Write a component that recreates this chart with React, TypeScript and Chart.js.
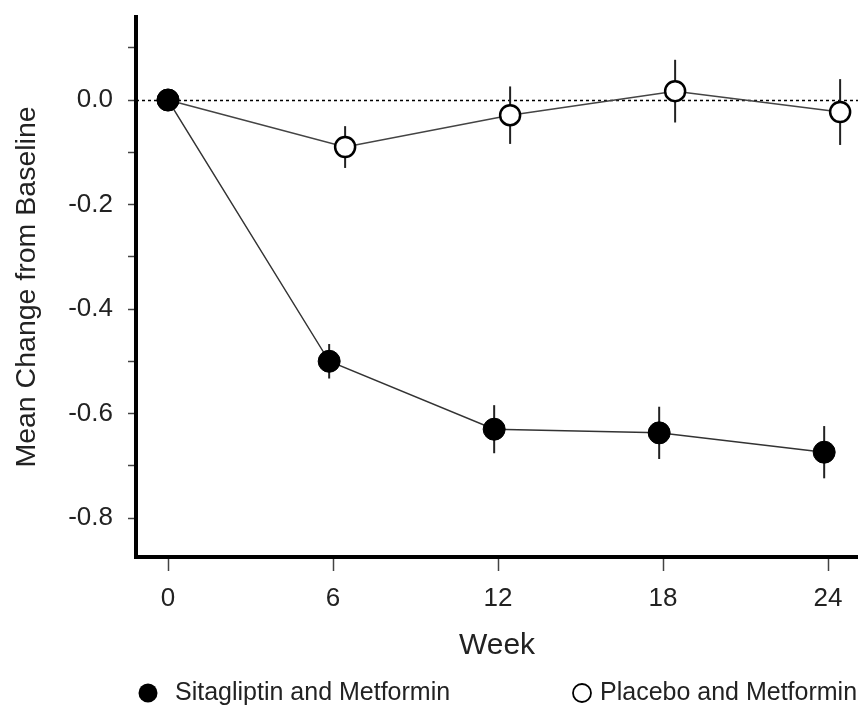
import React, { useEffect, useRef } from "react";
import { Chart, registerables } from "chart.js";

Chart.register(...registerables);

// ---- data ----
const weeks = [0, 6, 12, 18, 24];
const sitaMean = [0, -0.5, -0.63, -0.637, -0.674];
const sitaErr = [0, 0.033, 0.046, 0.05, 0.05];
const placeboMean = [0, -0.09, -0.029, 0.017, -0.023];
const placeboErr = [0, 0.04, 0.055, 0.06, 0.063];
const sitaDodge = -0.14;
const placeboDodge = 0.44;

const xTicks = [0, 6, 12, 18, 24];
const yTicks = [0.1, 0, -0.1, -0.2, -0.3, -0.4, -0.5, -0.6, -0.7, -0.8];
const yTickLabels = ["", "0.0", "", "-0.2", "", "-0.4", "", "-0.6", "", "-0.8"];
const seriesNames = ["Sitagliptin and Metformin", "Placebo and Metformin"];
const xTitle = "Week";
const yTitle = "Mean Change from Baseline";

const FONT = "'Liberation Sans', Arial, Helvetica, sans-serif";
const TEXT = "#222";

const dodge = (w: number, d: number) => (w === 0 ? w : w + d);

const noPad = (s: any) => {
  s.paddingLeft = 0;
  s.paddingRight = 0;
  s.paddingTop = 0;
  s.paddingBottom = 0;
};

const errorBarPlugin = {
  id: "errorBars",
  beforeDatasetsDraw(chart: any) {
    const { ctx, chartArea } = chart;
    const y = chart.scales.y;
    const y0 = Math.round(y.getPixelForValue(0)) + 0.5;
    ctx.save();
    ctx.strokeStyle = "#000";
    ctx.lineWidth = 1.5;
    ctx.setLineDash([3, 3]);
    ctx.beginPath();
    ctx.moveTo(chartArea.left, y0);
    ctx.lineTo(chartArea.right, y0);
    ctx.stroke();
    ctx.setLineDash([]);
    chart.data.datasets.forEach((ds: any, i: number) => {
      const meta = chart.getDatasetMeta(i);
      const errs: number[] = ds.errors || [];
      meta.data.forEach((pt: any, j: number) => {
        const m = ds.data[j].y;
        const e = errs[j] || 0;
        if (!e) return;
        ctx.strokeStyle = "#222";
        ctx.lineWidth = 2;
        ctx.beginPath();
        ctx.moveTo(pt.x, y.getPixelForValue(m + e));
        ctx.lineTo(pt.x, y.getPixelForValue(m - e));
        ctx.stroke();
      });
    });
    ctx.restore();
  },
};

const legendPlugin = {
  id: "customLegend",
  afterDraw(chart: any) {
    const { ctx } = chart;
    const ly = chart.height - 14;
    ctx.save();
    ctx.font = `25px ${FONT}`;
    ctx.textBaseline = "middle";
    ctx.textAlign = "left";
    ctx.beginPath();
    ctx.arc(148, ly, 9.5, 0, Math.PI * 2);
    ctx.fillStyle = "#000";
    ctx.fill();
    ctx.fillStyle = TEXT;
    ctx.fillText(seriesNames[0], 175, ly);
    ctx.beginPath();
    ctx.arc(582, ly, 9, 0, Math.PI * 2);
    ctx.fillStyle = "#fff";
    ctx.fill();
    ctx.lineWidth = 1.8;
    ctx.strokeStyle = "#000";
    ctx.stroke();
    ctx.fillStyle = TEXT;
    ctx.fillText(seriesNames[1], 600, ly);
    ctx.restore();
  },
};

export default function App() {
  const ref = useRef<HTMLCanvasElement>(null);
  useEffect(() => {
    const chart = new Chart(ref.current as HTMLCanvasElement, {
      type: "line",
      data: {
        datasets: [
          {
            label: seriesNames[0],
            data: weeks.map((w, i) => ({ x: dodge(w, sitaDodge), y: sitaMean[i] })),
            errors: sitaErr,
            borderColor: "#333",
            borderWidth: 1.5,
            pointRadius: 11,
            pointHoverRadius: 11,
            pointBackgroundColor: "#000",
            pointBorderColor: "#000",
            pointBorderWidth: 1,
            tension: 0,
            clip: false,
          } as any,
          {
            label: seriesNames[1],
            data: weeks.map((w, i) => ({ x: dodge(w, placeboDodge), y: placeboMean[i] })),
            errors: placeboErr,
            borderColor: "#444",
            borderWidth: 1.5,
            pointRadius: 10,
            pointHoverRadius: 10,
            pointBackgroundColor: "#fff",
            pointBorderColor: "#000",
            pointBorderWidth: 2.5,
            tension: 0,
            clip: false,
          } as any,
        ],
      },
      options: {
        responsive: false,
        animation: false,
        events: [],
        layout: { autoPadding: false, padding: { top: 17, left: 0, right: 0, bottom: 0 } },
        plugins: { legend: { display: false }, tooltip: { enabled: false } },
        scales: {
          x: {
            type: "linear",
            min: -1.164,
            max: 25.09,
            afterBuildTicks: (s: any) => {
              s.ticks = xTicks.map((v) => ({ value: v }));
            },
            afterFit: (s: any) => {
              s.height = 150;
              noPad(s);
            },
            ticks: {
              color: TEXT,
              font: { family: FONT, size: 26 },
              padding: 12,
              maxRotation: 0,
              callback: (v: any) => String(v),
            },
            grid: {
              drawOnChartArea: false,
              drawTicks: true,
              tickLength: 14,
              tickColor: "#444",
              tickWidth: 1.5,
            },
            border: { display: true, color: "#000", width: 4 },
            title: {
              display: true,
              text: xTitle,
              color: TEXT,
              font: { family: FONT, size: 30 },
              padding: { top: 0, bottom: 43 },
            },
          },
          y: {
            type: "linear",
            min: -0.8746,
            max: 0.1589,
            afterBuildTicks: (s: any) => {
              s.ticks = yTicks.map((v) => ({ value: v }));
            },
            afterFit: (s: any) => {
              s.width = 136;
              noPad(s);
            },
            ticks: {
              color: TEXT,
              font: { family: FONT, size: 26 },
              padding: 15,
              callback: (v: any) => {
                const idx = yTicks.findIndex((t) => Math.abs(t - Number(v)) < 1e-9);
                return idx >= 0 ? yTickLabels[idx] : "";
              },
            },
            grid: {
              drawOnChartArea: false,
              drawTicks: true,
              tickLength: 8,
              tickColor: "#444",
              tickWidth: 1.5,
            },
            border: { display: true, color: "#000", width: 4 },
            title: {
              display: true,
              text: yTitle,
              color: TEXT,
              font: { family: FONT, size: 28.5 },
              padding: { top: 10, bottom: 0 },
            },
          },
        },
      },
      plugins: [errorBarPlugin, legendPlugin],
    } as any);
    return () => chart.destroy();
  }, []);
  return (
    <div style={{ position: "fixed", left: 0, top: 0, width: 858, height: 707, background: "#fff" }}>
      <canvas ref={ref} width={858} height={707} style={{ display: "block" }} />
    </div>
  );
}
